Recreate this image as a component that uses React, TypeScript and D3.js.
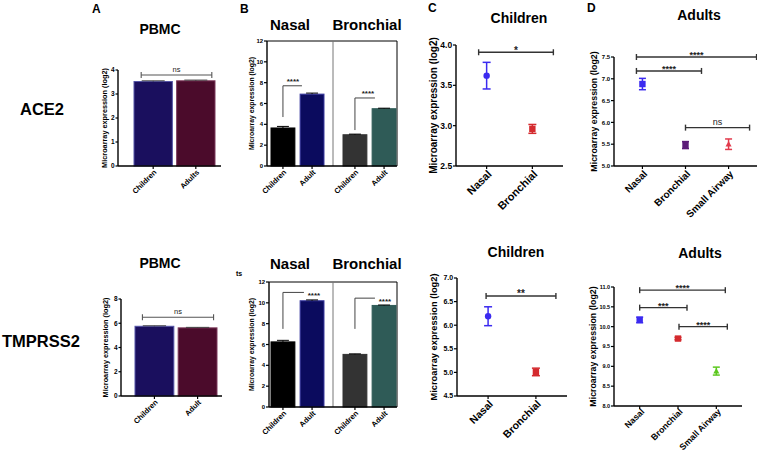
import React from "react";
import * as d3 from "d3";

const FONT = "'Liberation Sans', Arial, Helvetica, sans-serif";

// ---------- DATA ----------
// Panel A (PBMC)
const pbmcAce2Groups = ["Children", "Adults"];
const pbmcAce2Values = [3.52, 3.55];
const pbmcAce2Errors = [0.03, 0.03];
const pbmcAce2Ticks = [0, 1, 2, 3, 4];

const pbmcTmprss2Groups = ["Children", "Adult"];
const pbmcTmprss2Values = [5.75, 5.62];
const pbmcTmprss2Errors = [0.04, 0.04];
const pbmcTmprss2Ticks = [0, 2, 4, 6, 8];

// Panel B (Nasal / Bronchial by age)
const airwayTissues = ["Nasal", "Bronchial"];
const airwayAgeGroups = ["Children", "Adult"];
const nasalAce2Values = [3.65, 6.9];
const nasalAce2Errors = [0.15, 0.1];
const bronchialAce2Values = [3.0, 5.5];
const bronchialAce2Errors = [0.06, 0.05];
const nasalTmprss2Values = [6.25, 10.2];
const nasalTmprss2Errors = [0.15, 0.08];
const bronchialTmprss2Values = [5.05, 9.75];
const bronchialTmprss2Errors = [0.05, 0.04];
const airwayTicks = [0, 2, 4, 6, 8, 10, 12];

// Panel C (children)
const childrenSites = ["Nasal", "Bronchial"];
const childrenAce2Means = [3.62, 2.96];
const childrenAce2Errors = [0.165, 0.055];
const childrenAce2Ticks = [2.5, 3.0, 3.5, 4.0];
const childrenTmprss2Means = [6.19, 5.01];
const childrenTmprss2Errors = [0.2, 0.08];
const childrenTmprss2Ticks = [4.5, 5.0, 5.5, 6.0, 6.5, 7.0];

// Panel D (adults)
const adultSites = ["Nasal", "Bronchial", "Small Airway"];
const adultAce2Means = [6.88, 5.48, 5.5];
const adultAce2Errors = [0.13, 0.08, 0.12];
const adultAce2Ticks = [5.0, 5.5, 6.0, 6.5, 7.0, 7.5];
const adultTmprss2Means = [10.17, 9.7, 8.88];
const adultTmprss2Errors = [0.07, 0.03, 0.1];
const adultTmprss2Ticks = [8.0, 8.5, 9.0, 9.5, 10.0, 10.5, 11.0];

// significance annotations (category indices, level in data units)
const pbmcAce2Sig = [{ from: 0, to: 1, level: 3.79, label: "ns" }];
const pbmcTmprss2Sig = [{ from: 0, to: 1, level: 6.5, label: "ns" }];
const childrenAce2Sig = [{ from: 0, to: 1, level: 3.91, label: "*" }];
const childrenTmprss2Sig = [{ from: 0, to: 1, level: 6.62, label: "**" }];
const adultAce2Sig = [
  { from: 0, to: 2, level: 7.5, label: "****" },
  { from: 0, to: 1, level: 7.18, label: "****" },
  { from: 1, to: 2, level: 5.88, label: "ns" },
];
const adultTmprss2Sig = [
  { from: 0, to: 2, level: 10.92, label: "****" },
  { from: 0, to: 1, level: 10.48, label: "***" },
  { from: 1, to: 2, level: 10.0, label: "****" },
];
const airwayAce2Sig = [
  { tissue: "Nasal", base: 4.7, level: 7.7, label: "****" },
  { tissue: "Bronchial", base: 3.45, level: 6.53, label: "****" },
];
const airwayTmprss2Sig = [
  { tissue: "Nasal", base: 7.5, level: 11.0, label: "****" },
  { tissue: "Bronchial", base: 7.5, level: 10.45, label: "****" },
];

const YLABEL = "Microarray expression (log2)";

// ---------- helpers ----------
function YAxis({ x, y, ticks, fmt, fs, tick = 3 }: any) {
  const [y0, y1] = y.range();
  return (
    <g>
      <line x1={x} x2={x} y1={y0} y2={y1} stroke="#000" strokeWidth={1.4} />
      {ticks.map((t: number) => (
        <g key={t}>
          <line x1={x - tick} x2={x} y1={y(t)} y2={y(t)} stroke="#000" strokeWidth={1.2} />
          <text x={x - tick - 0.8} y={y(t)} dy="0.35em" textAnchor="end" fontSize={fs} fontWeight="bold">
            {fmt(t)}
          </text>
        </g>
      ))}
    </g>
  );
}

function XAxis({ x0, x1, y, positions, labels, fs, tick = 3, dx = 2, dy = 6 }: any) {
  return (
    <g>
      <line x1={x0} x2={x1} y1={y} y2={y} stroke="#000" strokeWidth={1.4} />
      {positions.map((p: number, i: number) => (
        <g key={i}>
          <line x1={p} x2={p} y1={y} y2={y + tick} stroke="#000" strokeWidth={1.2} />
          <text
            transform={`translate(${p + dx},${y + dy}) rotate(-45)`}
            textAnchor="end"
            dy="0.35em"
            fontSize={fs}
            fontWeight="bold"
          >
            {labels[i]}
          </text>
        </g>
      ))}
    </g>
  );
}

function YLabel({ x, cy, fs }: any) {
  return (
    <text transform={`translate(${x},${cy}) rotate(-90)`} textAnchor="middle" fontSize={fs} fontWeight="bold">
      {YLABEL}
    </text>
  );
}

function CapBracket({ x1, x2, y, label, fs, cap = 3, color = "#333", sw = 1.3, labelDy = -3 }: any) {
  return (
    <g>
      <line x1={x1} x2={x2} y1={y} y2={y} stroke={color} strokeWidth={sw} />
      <line x1={x1} x2={x1} y1={y - cap} y2={y + cap} stroke={color} strokeWidth={sw} />
      <line x1={x2} x2={x2} y1={y - cap} y2={y + cap} stroke={color} strokeWidth={sw} />
      <text
        x={(x1 + x2) / 2}
        y={y + labelDy + (label.includes("*") ? fs * 0.45 : 0)}
        textAnchor="middle"
        fontSize={fs}
        fontWeight={label.includes("*") ? "bold" : "normal"}
        fill="#222"
      >
        {label}
      </text>
    </g>
  );
}

// ---------- Panel A ----------
function PbmcPanel({ groups, values, errors, ticks, yMax, yTop, yBottom, axisX, axisEnd, barRange, sig, sigExt, title, titleY, labelX }: any) {
  const y = d3.scaleLinear().domain([0, yMax]).range([yBottom, yTop]);
  const x = d3.scaleBand<string>().domain(groups).range(barRange).paddingInner(0.1);
  const fills = ["#1a0f5e", "#4b0b2b"];
  const strokes = ["#5555a8", "#7d3a5c"];
  const bw = x.bandwidth();
  return (
    <g>
      <text x={160} y={titleY} textAnchor="middle" fontSize={14} fontWeight="bold">{title}</text>
      <YLabel x={labelX} cy={(yTop + yBottom) / 2} fs={7.3} />
      {groups.map((g: string, i: number) => {
        const x0 = x(g)!;
        const cx = x0 + bw / 2;
        return (
          <g key={g}>
            <rect x={x0} y={y(values[i])} width={bw} height={y(0) - y(values[i])} fill={fills[i]} stroke={strokes[i]} strokeWidth={1} />
            <line x1={cx} x2={cx} y1={y(values[i])} y2={y(values[i] + errors[i])} stroke="#333" strokeWidth={1} />
            <line x1={cx - bw * 0.3} x2={cx + bw * 0.3} y1={y(values[i] + errors[i])} y2={y(values[i] + errors[i])} stroke="#444" strokeWidth={1} />
          </g>
        );
      })}
      <YAxis x={axisX} y={y} ticks={ticks} fmt={d3.format("d")} fs={6.5} tick={2.5} />
      <XAxis x0={axisX} x1={axisEnd} y={yBottom} positions={groups.map((g: string) => x(g)! + bw / 2)} labels={groups} fs={7.5} dx={2} dy={5} />
      {sig.map((s: any, i: number) => (
        <CapBracket
          key={i}
          x1={x(groups[s.from])! + bw / 2 + sigExt[i][0]}
          x2={x(groups[s.to])! + bw / 2 + sigExt[i][1]}
          y={y(s.level)}
          label={s.label}
          fs={7.5}
          color="#555"
          sw={1.1}
          labelDy={-3}
        />
      ))}
    </g>
  );
}

// ---------- Panel B ----------
function AirwayPanel({ nasalValues, nasalErrors, bronchialValues, bronchialErrors, yTop, yBottom, axisX, right, sep, ranges, sig, sigLayout, titleY }: any) {
  const y = d3.scaleLinear().domain([0, 12]).range([yBottom, yTop]);
  const groupValues = [nasalValues, bronchialValues];
  const groupErrors = [nasalErrors, bronchialErrors];
  const fills = [["#000000", "#0b0b5e"], ["#333333", "#2f5b57"]];
  const strokes = [["#000000", "#3a3aa0"], ["#333333", "#2f5b57"]];
  const positions: number[] = [];
  const labels: string[] = [];
  const scales = airwayTissues.map((t, gi) =>
    d3.scaleBand<string>().domain(airwayAgeGroups).range(ranges[gi]).paddingInner(0.18)
  );
  return (
    <g>
      {airwayTissues.map((t, gi) => (
        <text key={t} x={[290, 367][gi]} y={titleY} textAnchor="middle" fontSize={15} fontWeight="bold">{t}</text>
      ))}
      <YLabel x={254} cy={(yTop + yBottom) / 2} fs={6.8} />
      <line x1={axisX} x2={right} y1={yTop} y2={yTop} stroke="#000" strokeWidth={1} />
      <line x1={right} x2={right} y1={yTop} y2={yBottom} stroke="#000" strokeWidth={1} />
      <line x1={sep} x2={sep} y1={yTop} y2={yBottom} stroke="#777" strokeWidth={1} />
      {airwayTissues.map((t, gi) => {
        const x = scales[gi];
        const bw = x.bandwidth();
        return airwayAgeGroups.map((a, i) => {
          const x0 = x(a)!;
          const cx = x0 + bw / 2;
          positions.push(cx);
          labels.push(a);
          const v = groupValues[gi][i];
          const e = groupErrors[gi][i];
          return (
            <g key={t + a}>
              <rect x={x0} y={y(v)} width={bw} height={y(0) - y(v)} fill={fills[gi][i]} stroke={strokes[gi][i]} strokeWidth={1} />
              <line x1={cx} x2={cx} y1={y(v)} y2={y(v + e)} stroke="#000" strokeWidth={1} />
              <line x1={cx - bw * 0.25} x2={cx + bw * 0.25} y1={y(v + e)} y2={y(v + e)} stroke="#000" strokeWidth={1} />
            </g>
          );
        });
      })}
      <YAxis x={axisX} y={y} ticks={airwayTicks} fmt={d3.format("d")} fs={6} />
      <XAxis x0={axisX} x1={right} y={yBottom} positions={positions} labels={labels} fs={7.5} dx={2} dy={5} />
      {sig.map((s: any, i: number) => {
        const gi = airwayTissues.indexOf(s.tissue);
        const x = scales[gi];
        const cx = x(airwayAgeGroups[0])! + x.bandwidth() / 2;
        const L = sigLayout[i];
        return (
          <g key={i}>
            <path
              d={`M${cx},${y(s.base)} V${y(s.level)} H${cx + L.len}`}
              fill="none"
              stroke="#444"
              strokeWidth={1}
            />
            <text x={cx + L.sx} y={y(s.level) + L.sy} textAnchor="middle" fontSize={8} fontWeight="bold" fill="#222">
              {s.label}
            </text>
          </g>
        );
      })}
    </g>
  );
}

// ---------- Panels C/D ----------
function Marker({ shape, x, y, color }: any) {
  if (shape === "circle") return <circle cx={x} cy={y} r={3.2} fill={color} />;
  if (shape === "square") return <rect x={x - 3.2} y={y - 3.2} width={6.4} height={6.4} fill={color} />;
  return <path d={`M${x},${y - 3.2} L${x + 3},${y + 2.4} L${x - 3},${y + 2.4} Z`} fill={color} />;
}

function PointPanel({ sites, means, errors, colors, shapes, ticks, domain, xRange, pad, yRange, tickFs, labelFs, labelDx = 3, labelDy = 6, yLabelFs, yLabelX, title, titleX, titleY, sig, sigExt, sigFs, capW }: any) {
  const y = d3.scaleLinear().domain(domain).range(yRange);
  const x = d3.scalePoint<string>().domain(sites).range(xRange).padding(pad);
  return (
    <g>
      <text x={titleX} y={titleY} textAnchor="middle" fontSize={14} fontWeight="bold">{title}</text>
      <YLabel x={yLabelX} cy={(yRange[0] + yRange[1]) / 2} fs={yLabelFs} />
      <YAxis x={xRange[0]} y={y} ticks={ticks} fmt={d3.format(".1f")} fs={tickFs} />
      <XAxis x0={xRange[0]} x1={xRange[1]} y={yRange[0]} positions={sites.map((s: string) => x(s)!)} labels={sites} fs={labelFs} dx={labelDx} dy={labelDy} />
      {sites.map((s: string, i: number) => {
        const cx = x(s)!;
        const m = means[i];
        const e = errors[i];
        return (
          <g key={s}>
            <line x1={cx} x2={cx} y1={y(m - e)} y2={y(m + e)} stroke={colors[i]} strokeWidth={1.5} />
            <line x1={cx - capW} x2={cx + capW} y1={y(m + e)} y2={y(m + e)} stroke={colors[i]} strokeWidth={1.5} />
            <line x1={cx - capW} x2={cx + capW} y1={y(m - e)} y2={y(m - e)} stroke={colors[i]} strokeWidth={1.5} />
            <Marker shape={shapes[i]} x={cx} y={y(m)} color={colors[i]} />
          </g>
        );
      })}
      {sig.map((s: any, i: number) => (
        <CapBracket
          key={i}
          x1={x(sites[s.from])! + sigExt[i][0]}
          x2={x(sites[s.to])! + sigExt[i][1]}
          y={y(s.level)}
          label={s.label}
          fs={sigFs}
          color="#333"
          sw={1.4}
          labelDy={-3}
        />
      ))}
    </g>
  );
}

const BLUE = "#3b2af0";
const RED = "#d42a2e";
const PURPLE = "#5b1c78";
const PINK = "#e23a4c";
const GREEN = "#5cc81e";

export default function App() {
  return (
    <svg
      width={757}
      height={453}
      style={{ position: "absolute", left: 0, top: 0, background: "#fff" }}
      fontFamily={FONT}
    >
      <rect width={757} height={453} fill="#fff" />
      <text x={20} y={115} fontSize={16.5} fontWeight="bold">ACE2</text>
      <text x={2} y={347} fontSize={16.5} fontWeight="bold">TMPRSS2</text>
      <text x={92} y={13} fontSize={12} fontWeight="bold">A</text>
      <text x={240} y={13} fontSize={12} fontWeight="bold">B</text>
      <text x={428} y={12} fontSize={12} fontWeight="bold">C</text>
      <text x={587} y={12} fontSize={12} fontWeight="bold">D</text>
      <text x={236} y={276} fontSize={7} fontWeight="bold">ts</text>

      {/* A */}
      <PbmcPanel
        groups={pbmcAce2Groups}
        values={pbmcAce2Values}
        errors={pbmcAce2Errors}
        ticks={pbmcAce2Ticks}
        yMax={4}
        yTop={70}
        yBottom={166}
        axisX={118}
        axisEnd={221}
        barRange={[134, 215]}
        sig={pbmcAce2Sig}
        sigExt={[[-12, 16]]}
        title="PBMC"
        titleY={34}
        labelX={107}
      />
      <PbmcPanel
        groups={pbmcTmprss2Groups}
        values={pbmcTmprss2Values}
        errors={pbmcTmprss2Errors}
        ticks={pbmcTmprss2Ticks}
        yMax={8}
        yTop={299}
        yBottom={396}
        axisX={121}
        axisEnd={222}
        barRange={[135, 217]}
        sig={pbmcTmprss2Sig}
        sigExt={[[-12, 16]]}
        title="PBMC"
        titleY={268}
        labelX={108}
      />

      {/* B */}
      <AirwayPanel
        nasalValues={nasalAce2Values}
        nasalErrors={nasalAce2Errors}
        bronchialValues={bronchialAce2Values}
        bronchialErrors={bronchialAce2Errors}
        yTop={41}
        yBottom={166}
        axisX={267}
        right={397}
        sep={333}
        ranges={[[271, 324], [343, 396]]}
        sig={airwayAce2Sig}
        sigLayout={[{ len: 19, sx: 10, sy: -2 }, { len: 20, sx: 13, sy: -2 }]}
        titleY={30}
      />
      <AirwayPanel
        nasalValues={nasalTmprss2Values}
        nasalErrors={nasalTmprss2Errors}
        bronchialValues={bronchialTmprss2Values}
        bronchialErrors={bronchialTmprss2Errors}
        yTop={282}
        yBottom={407}
        axisX={269}
        right={397}
        sep={333}
        ranges={[[271, 324], [343, 396]]}
        sig={airwayTmprss2Sig}
        sigLayout={[{ len: 21, sx: 31, sy: 6 }, { len: 20, sx: 30, sy: 6 }]}
        titleY={269}
      />

      {/* C */}
      <PointPanel
        sites={childrenSites}
        means={childrenAce2Means}
        errors={childrenAce2Errors}
        colors={[BLUE, RED]}
        shapes={["circle", "square"]}
        ticks={childrenAce2Ticks}
        domain={[2.5, 4.0]}
        xRange={[456, 563]}
        pad={0.67}
        yRange={[166, 45]}
        tickFs={8.5}
        labelFs={11}
        yLabelFs={10}
        yLabelX={437}
        title="Children"
        titleX={519}
        titleY={23}
        sig={childrenAce2Sig}
        sigExt={[[-8, 21]]}
        sigFs={10}
        capW={4}
      />
      <PointPanel
        sites={childrenSites}
        means={childrenTmprss2Means}
        errors={childrenTmprss2Errors}
        colors={[BLUE, RED]}
        shapes={["circle", "square"]}
        ticks={childrenTmprss2Ticks}
        domain={[4.5, 7.0]}
        xRange={[457, 567]}
        pad={0.65}
        yRange={[396, 278]}
        tickFs={7}
        labelFs={10.5}
        yLabelFs={9.3}
        yLabelX={437}
        title="Children"
        titleX={516}
        titleY={257}
        sig={childrenTmprss2Sig}
        sigExt={[[-2, 20]]}
        sigFs={10}
        capW={4}
      />

      {/* D */}
      <PointPanel
        sites={adultSites}
        means={adultAce2Means}
        errors={adultAce2Errors}
        colors={[BLUE, PURPLE, PINK]}
        shapes={["square", "square", "triangle"]}
        ticks={adultAce2Ticks}
        domain={[5.0, 7.5]}
        xRange={[614, 757]}
        pad={0.66}
        yRange={[166, 57]}
        tickFs={6}
        labelFs={10}
        yLabelFs={8.8}
        yLabelX={597}
        title="Adults"
        titleX={699}
        titleY={20}
        sig={adultAce2Sig}
        sigExt={[[-6, 28], [-6, 16], [0, 21]]}
        sigFs={9}
        capW={3.5}
      />
      <PointPanel
        sites={adultSites}
        means={adultTmprss2Means}
        errors={adultTmprss2Errors}
        colors={[BLUE, RED, GREEN]}
        shapes={["square", "square", "triangle"]}
        ticks={adultTmprss2Ticks}
        domain={[8.0, 11.0]}
        xRange={[614, 742]}
        pad={0.67}
        yRange={[406, 287]}
        tickFs={5.5}
        labelFs={8.8}
        labelDx={3}
        labelDy={4}
        yLabelFs={8.8}
        yLabelX={596}
        title="Adults"
        titleX={700}
        titleY={258}
        sig={adultTmprss2Sig}
        sigExt={[[0, 9], [0, 9], [1, 11]]}
        sigFs={9}
        capW={3.5}
      />
    </svg>
  );
}
